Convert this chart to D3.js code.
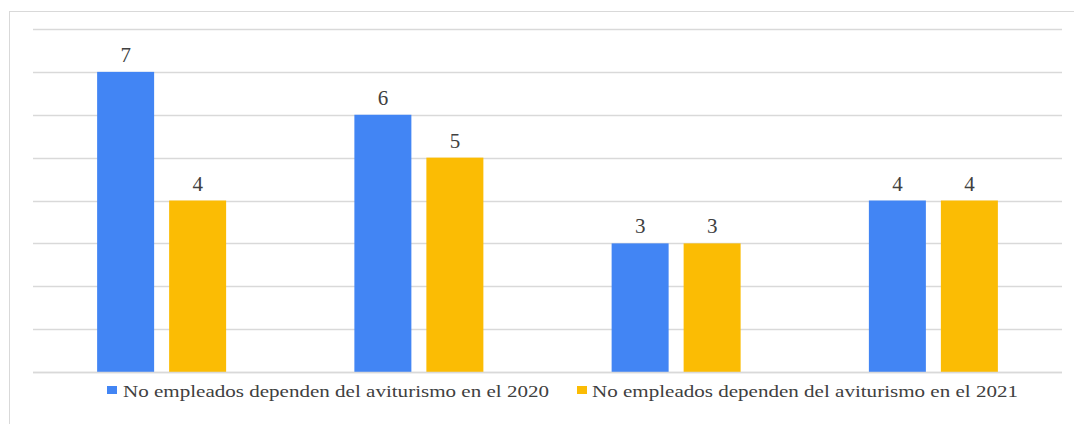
<!DOCTYPE html>
<html><head><meta charset="utf-8">
<script src="https://cdn.jsdelivr.net/npm/d3@7"></script>
<style>body{margin:0;background:#fff}svg{display:block}
text{font-family:"Liberation Serif","Times New Roman","DejaVu Serif",serif}</style>
</head><body>
<script>
const categories = ["A","B","C","D"];
const series2020 = [7,6,3,4];
const series2021 = [4,5,3,4];
const seriesNames = ["No empleados dependen del aviturismo en el 2020","No empleados dependen del aviturismo en el 2021"];
const yTicks = [0,1,2,3,4,5,6,7,8];
const colors = ["#4285F4","#FBBC04"];

const W=1074,H=424;
const svg=d3.select("body").append("svg").attr("width",W).attr("height",H);
svg.append("rect").attr("x",9.5).attr("y",11.5).attr("width",1080).attr("height",430)
  .attr("fill","#fff").attr("stroke","#d9d9d9");

const x0=d3.scaleBand().domain(categories).range([33,1062]).paddingInner(0).paddingOuter(0);
const y=d3.scaleLinear().domain([0,8]).range([372,29]);

const g=svg.append("g");
g.selectAll("line.grid").data(yTicks).join("line")
  .attr("x1",33).attr("x2",1062).attr("y1",d=>Math.round(y(d))+0.5).attr("y2",d=>Math.round(y(d))+0.5)
  .attr("stroke","#d9d9d9").attr("stroke-width",1.5);

const bw=57, gap=15;
const data=[series2020,series2021];
data.forEach((s,si)=>{
  const off = si===0 ? -(gap/2+bw) : gap/2;
  g.selectAll("rect.s"+si).data(s).join("rect")
    .attr("x",(d,i)=>x0(categories[i])+x0.bandwidth()/2+off)
    .attr("y",d=>y(d)).attr("width",bw).attr("height",d=>y(0)-y(d))
    .attr("fill",colors[si]);
  g.selectAll("text.l"+si).data(s).join("text")
    .attr("x",(d,i)=>x0(categories[i])+x0.bandwidth()/2+off+bw/2)
    .attr("y",d=>y(d)-10).attr("text-anchor","middle")
    .attr("font-size",21)
    .attr("fill","#404040").text(d=>d);
});
g.append("line").attr("x1",33).attr("x2",1062).attr("y1",372.5).attr("y2",372.5)
  .attr("stroke","#d9d9d9").attr("stroke-width",1.5);

const legX=[107,577], txtX=[123,592];
seriesNames.forEach((n,i)=>{
  svg.append("rect").attr("x",legX[i]).attr("y",386).attr("width",10).attr("height",8).attr("fill",colors[i]);
  svg.append("text").attr("x",txtX[i]).attr("y",397)
    .attr("font-size",17)
    .attr("fill","#404040").attr("textLength",426).attr("lengthAdjust","spacingAndGlyphs").text(n);
});
</script>
</body></html>
